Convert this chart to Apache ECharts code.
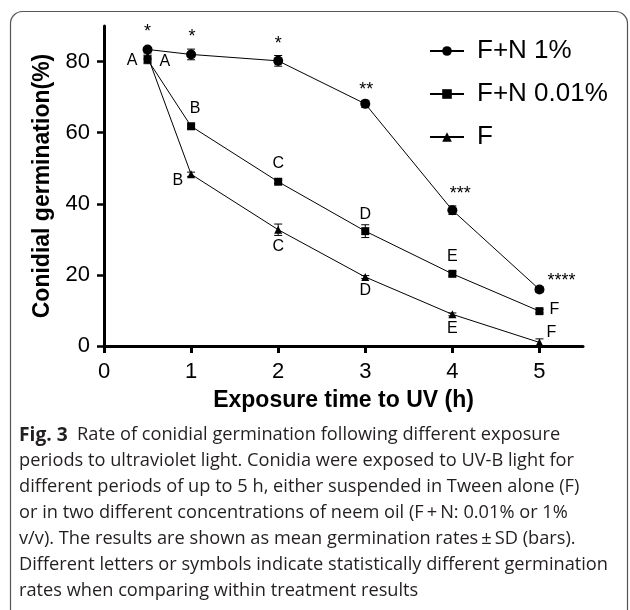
<!DOCTYPE html>
<html>
<head>
<meta charset="utf-8">
<script src="https://cdn.jsdelivr.net/npm/echarts@6/dist/echarts.min.js"></script>
<style>
  html, body { margin: 0; padding: 0; background: #fff; }
  #main { width: 630px; height: 610px; }
</style>
</head>
<body>
<div id="main"></div>
<script>
// exposure times (h)
const times = [0.5, 1, 2, 3, 4, 5];

// mean germination (%) and SD
const neem1 = [83.4, 82.0, 80.2, 68.1, 38.2, 15.9];
const neem1Sd = [0.4, 1.5, 1.5, 1.0, 1.2, 0.8];
const neem001 = [80.6, 61.8, 46.2, 32.3, 20.3, 9.8];
const neem001Sd = [1.2, 0.6, 0.5, 1.8, 0.6, 0.5];
const tween = [81.6, 48.3, 32.7, 19.4, 8.9, 1.0];
const tweenSd = [0.8, 0.6, 1.6, 0.4, 0.4, 1.0];

// significance marks
const neem1Marks = ['*', '*', '*', '**', '***', '****'];
const neem001Marks = ['A', 'B', 'C', 'D', 'E', 'F'];
const tweenMarks = ['A', 'B', 'C', 'D', 'E', 'F'];

const xTicks = [0, 1, 2, 3, 4, 5];
const yTicks = [0, 20, 40, 60, 80];

const captionHead = 'Fig. 3';
const captionLines = [
  'Rate of conidial germination following different exposure',
  'periods to ultraviolet light. Conidia were exposed to UV-B light for',
  'different periods of up to 5 h, either suspended in Tween alone (F)',
  'or in two different concentrations of neem oil (F\u2009+\u2009N: 0.01% or 1%',
  'v/v). The results are shown as mean germination rates\u2009\u00b1\u2009SD (bars).',
  'Different letters or symbols indicate statistically different germination',
  'rates when comparing within treatment results'
];

// label placement (style only)
const neem1Pos = ['top', 'top', 'top', 'top', 'top', 'right'];
const neem1Off = [[0, 0], [1, 0], [0, 0], [1, 3], [8, 1], [0, -8]];
const neem001Pos = ['left', 'top', 'top', 'top', 'top', 'right'];
const neem001Off = [[0, 1], [4, 0], [0, 0], [0, 1], [0, 1], [0, -2]];
const tweenPos = ['right', 'left', 'bottom', 'bottom', 'bottom', 'right'];
const tweenOff = [[2, 6], [2, 6], [0, -1], [0, -4], [0, -4], [-3, -10]];

const FONT = 'Liberation Sans, Arial, sans-serif';
const CAP_FONT = '"Open Sans", "Noto Sans", sans-serif';
const CAP_SIZE = 19;

function lineSeries(name, vals, marks, pos, off, symbol, size, lab) {
  return {
    name: name,
    type: 'line',
    symbol: symbol,
    symbolSize: size,
    itemStyle: { color: '#000' },
    lineStyle: { color: '#000', width: 1 },
    z: 3,
    data: times.map(function (t, i) {
      return { value: [t, vals[i]], label: { position: pos[i], offset: off[i] } };
    }),
    label: {
      show: true,
      formatter: function (p) { return marks[p.dataIndex]; },
      fontFamily: FONT,
      fontSize: lab.size,
      color: '#000',
      distance: lab.dist
    }
  };
}

function errSeries(vals, sd) {
  return {
    type: 'custom',
    silent: true,
    z: 2,
    data: times.map(function (t, i) { return [t, vals[i] - sd[i], vals[i] + sd[i]]; }),
    renderItem: function (params, api) {
      var lo = api.coord([api.value(0), api.value(1)]);
      var hi = api.coord([api.value(0), api.value(2)]);
      var w = 4;
      var st = { stroke: '#000', lineWidth: 1 };
      return {
        type: 'group',
        children: [
          { type: 'line', shape: { x1: lo[0], y1: lo[1], x2: hi[0], y2: hi[1] }, style: st },
          { type: 'line', shape: { x1: lo[0] - w, y1: lo[1], x2: lo[0] + w, y2: lo[1] }, style: st },
          { type: 'line', shape: { x1: hi[0] - w, y1: hi[1], x2: hi[0] + w, y2: hi[1] }, style: st }
        ]
      };
    }
  };
}

// squeeze the caption font so the longest line spans the box like the original
var ctx = document.createElement('canvas').getContext('2d');
ctx.font = CAP_SIZE + 'px ' + CAP_FONT;
var capScale = 589 / ctx.measureText(captionLines[5]).width;

var chart = echarts.init(document.getElementById('main'));

var graphics = [
  {
    type: 'rect',
    shape: { x: 10.5, y: 11.5, width: 617, height: 700, r: 12 },
    style: { fill: 'none', stroke: '#555', lineWidth: 1.2 },
    silent: true
  }
];
captionLines.forEach(function (line, i) {
  var txt = i === 0 ? '{b|' + captionHead + '}  ' + line : line;
  graphics.push({
    type: 'text',
    x: 19, y: 435 + i * 26,
    scaleX: capScale,
    silent: true,
    style: {
      text: txt,
      x: 0, y: 0,
      verticalAlign: 'middle',
      fontFamily: CAP_FONT,
      fontSize: CAP_SIZE,
      fill: '#231f20',
      rich: {
        b: { fontFamily: CAP_FONT, fontWeight: 'bold', fontSize: CAP_SIZE + 1, fill: '#231f20' }
      }
    }
  });
});

chart.setOption({
  animation: false,
  textStyle: { fontFamily: FONT },
  grid: { left: 104, right: 47, top: 26, bottom: 264, containLabel: false },
  legend: {
    orient: 'vertical',
    left: 424, top: 33,
    itemWidth: 34, itemHeight: 12, itemGap: 17,
    textStyle: { fontFamily: FONT, fontSize: 26, color: '#000', padding: [0, 0, 0, 8] },
    data: ['F+N 1%', 'F+N 0.01%', 'F']
  },
  xAxis: {
    type: 'value',
    min: 0, max: 5.5, interval: 1,
    name: 'Exposure time to UV (h)',
    nameLocation: 'middle',
    nameGap: 43,
    nameTextStyle: { fontFamily: FONT, fontWeight: 'bold', fontSize: 23, color: '#000' },
    axisLine: { lineStyle: { color: '#000', width: 3 } },
    axisTick: { length: 7, lineStyle: { width: 3, color: '#000' }, customValues: xTicks },
    axisLabel: { fontSize: 22, color: '#000', margin: 15, customValues: xTicks },
    splitLine: { show: false }
  },
  yAxis: {
    type: 'value',
    min: 0, max: 90, interval: 10,
    name: 'Conidial germination(%)',
    nameLocation: 'middle',
    nameGap: 49,
    nameTextStyle: { fontFamily: FONT, fontWeight: 'bold', fontSize: 23, color: '#000' },
    axisLine: { show: true, lineStyle: { color: '#000', width: 3 } },
    axisTick: { show: true, length: 7, lineStyle: { width: 2.5, color: '#000' }, customValues: yTicks },
    axisLabel: { fontSize: 22, color: '#000', margin: 14, customValues: yTicks },
    splitLine: { show: false }
  },
  graphic: graphics,
  series: [
    lineSeries('F+N 1%', neem1, neem1Marks, neem1Pos, neem1Off, 'circle', 10, { size: 18, dist: 3 }),
    lineSeries('F+N 0.01%', neem001, neem001Marks, neem001Pos, neem001Off, 'rect', 8, { size: 16, dist: 6 }),
    lineSeries('F', tween, tweenMarks, tweenPos, tweenOff, 'triangle', 8, { size: 16, dist: 6 }),
    errSeries(neem1, neem1Sd),
    errSeries(neem001, neem001Sd),
    errSeries(tween, tweenSd)
  ]
});
</script>
</body>
</html>
